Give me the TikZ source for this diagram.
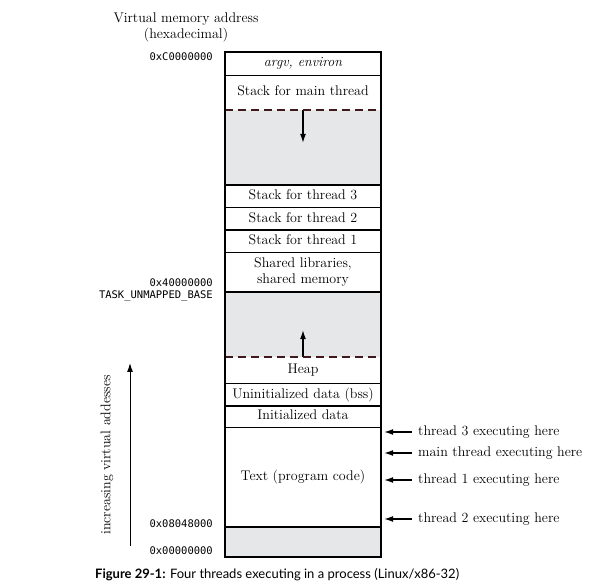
\documentclass[tikz,border=0pt]{standalone}
\usepackage{fontspec}
\newfontfamily\capfont{Lato}
\newfontfamily\addrfont{DejaVu Sans Mono}
\usetikzlibrary{arrows.meta,positioning,calc}
\definecolor{memgray}{RGB}{230,231,233}
\definecolor{dashred}{RGB}{62,24,26}

\begin{document}
\begin{tikzpicture}[x=1pt,y=-1pt,
    seg/.style={minimum width=156pt, inner sep=0pt, align=center, font=\fontsize{14}{16}\selectfont},
    one/.style={text height=9.5pt, text depth=3pt},
    gap/.style={seg, fill=memgray},
    addr/.style={anchor=east, inner sep=0pt, font=\addrfont\fontsize{10.5}{12}\selectfont},
    arr/.style={-{Latex[length=9pt,width=6pt]}, line width=1.2pt},
    thr/.style={anchor=west, inner sep=0pt, one, font=\fontsize{14}{16}\selectfont},
    sep/.style={line width=1.6pt},
    dsep/.style={dashred, line width=2pt, dash pattern=on 8pt off 5pt}]
  \useasboundingbox (0,0) rectangle (614,588);
  % title
  \node[align=center, font=\fontsize{14}{16}\selectfont] (title) at (186,27) {Virtual memory address\\(hexadecimal)};
  % memory rows, top to bottom
  \node[seg, one, anchor=north, minimum height=23pt] (argv) at (303,52) {\itshape argv, environ};
  \node[seg, one, minimum height=34pt, below=0pt of argv] (mainstk) {Stack for main thread};
  \node[gap, minimum height=75pt, below=0pt of mainstk] (gapA) {};
  \node[seg, one, minimum height=22pt, below=0pt of gapA] (st3) {Stack for thread 3};
  \node[seg, one, minimum height=22pt, below=0pt of st3] (st2) {Stack for thread 2};
  \node[seg, one, minimum height=22pt, below=0pt of st2] (st1) {Stack for thread 1};
  \node[seg, minimum height=39pt, below=0pt of st1] (shlib) {Shared libraries,\\shared memory};
  \node[gap, minimum height=65pt, below=0pt of shlib] (gapB) {};
  \node[seg, one, minimum height=26pt, below=0pt of gapB] (heap) {Heap};
  \node[seg, one, minimum height=22pt, below=0pt of heap] (bss) {Uninitialized data (bss)};
  \node[seg, one, minimum height=21pt, below=0pt of bss] (init) {Initialized data};
  \node[seg, one, minimum height=99pt, below=0pt of init] (txt) {Text (program code)};
  \node[gap, minimum height=30pt, below=0pt of txt] (gapC) {};
  % growth arrows
  \coordinate (downtip) at ($(gapA.north)+(0,33)$);
  \coordinate (uptip) at ($(gapB.south)+(0,-27)$);
  \draw[arr] (gapA.north) -- (downtip);
  \draw[arr] (gapB.south) -- (uptip);
  % separators
  \foreach \r in {argv,gapA,st3,st2,st1,shlib,heap,bss,init,txt}
    \draw[sep] (\r.south west) -- (\r.south east);
  \draw[dsep] (mainstk.south west) -- (mainstk.south east);
  \draw[dsep] (gapB.south west) -- (gapB.south east);
  \draw[line width=1.8pt] (argv.north west) rectangle (gapC.south east);
  % addresses
  \node[addr] (ahi) at (213,57) {0xC0000000};
  \node[addr] (amid) at (213,283) {0x40000000};
  \node[addr] (tub) at (213,296) {TASK\_UNMAPPED\_BASE};
  \node[addr] (atext) at (213,524) {0x08048000};
  \node[addr] (azero) at (213,551) {0x00000000};
  % threads
  \node[thr] (t3) at (418,432) {thread 3 executing here};
  \node[thr] (tm) at (418,453) {main thread executing here};
  \node[thr] (t1) at (418,480) {thread 1 executing here};
  \node[thr] (t2) at (418,519) {thread 2 executing here};
  \foreach \t in {t3,tm,t1,t2}
    \draw[arr, shorten <=6pt, shorten >=3pt] (\t.west) -- (\t.west -| txt.east);
  % address axis
  \coordinate (vlo) at (130,546);
  \coordinate (vhi) at (130,363);
  \draw[arr, line width=1pt] (vlo) -- (vhi);
  \node[rotate=90, font=\fontsize{14}{16}\selectfont] (vlab) at (107,455) {increasing virtual addesses};
  % caption
  \node[anchor=west, inner sep=0pt, font=\capfont\fontsize{13}{15}\selectfont] (cap) at (95,575)
    {\textbf{Figure 29-1:} Four threads executing in a process (Linux/x86-32)};
\end{tikzpicture}
\end{document}
